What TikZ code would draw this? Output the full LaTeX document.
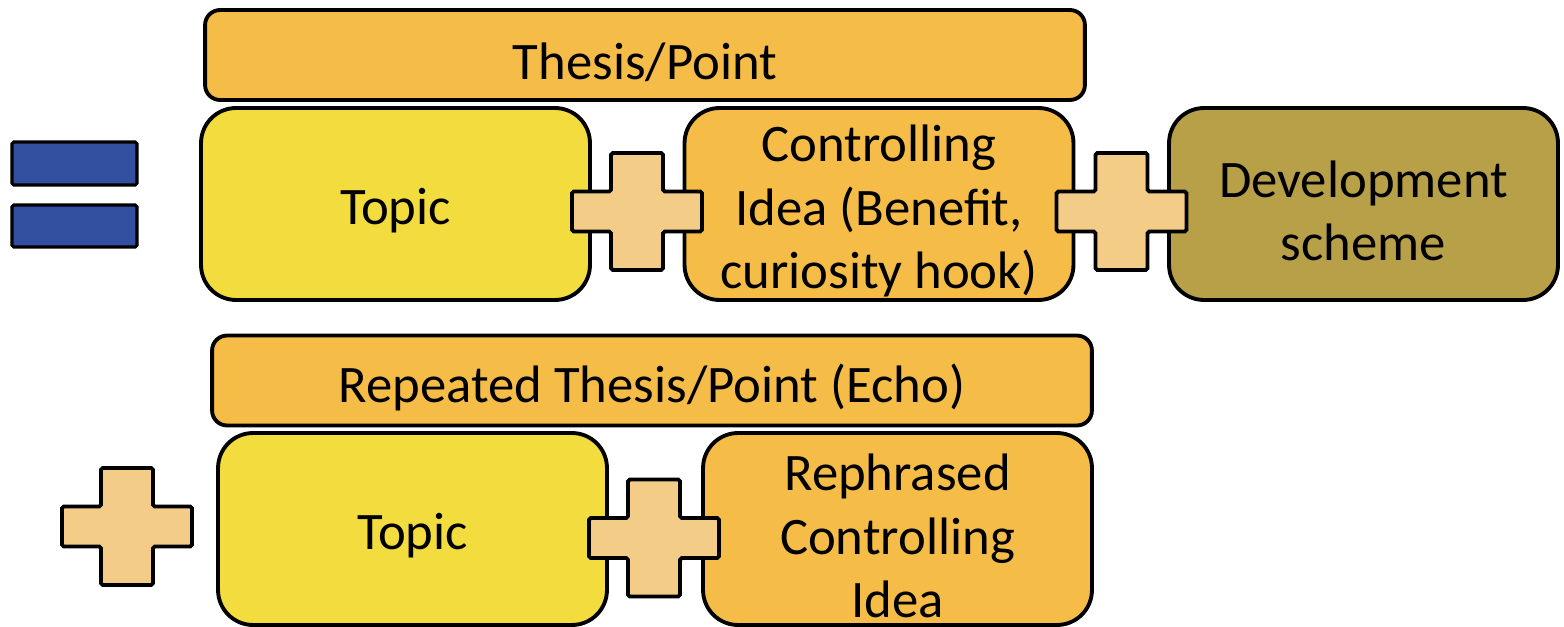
\documentclass[tikz,border=0pt]{standalone}
\usepackage{fontspec}
\setmainfont{Carlito}
\definecolor{thesisorange}{HTML}{F5BD47}
\definecolor{topicyellow}{HTML}{F2DC3E}
\definecolor{devolive}{HTML}{B8A048}
\definecolor{pluscream}{HTML}{F3CD87}
\definecolor{equalblue}{HTML}{3350A0}
\tikzset{
  partbox/.style={draw, line width=2.2pt, rounded corners=0.7cm,
    minimum width=7.78cm, minimum height=3.84cm, inner sep=0pt},
  boxtext/.style={align=center, yshift=-4pt, inner sep=0pt,
    font=\fontsize{30}{36}\selectfont},
  thesisbar/.style={partbox, fill=thesisorange, rounded corners=0.3cm,
    minimum width=17.6cm, minimum height=1.8cm},
  plussign/.pic={
    \draw[line width=2.2pt, fill=pluscream, rounded corners=1pt]
      (-65,-20) -- (-26,-20) -- (-26,-58.5) -- (26,-58.5) -- (26,-20) -- (65,-20)
      -- (65,20) -- (26,20) -- (26,58.5) -- (-26,58.5) -- (-26,20) -- (-65,20) -- cycle;
  }
}
\begin{document}
\begin{tikzpicture}[x=0.02cm,y=0.02cm]
  \useasboundingbox (0,0) rectangle (1564,626);
  % equals sign
  \draw[line width=1.8pt, fill=equalblue, rounded corners=1pt] (12,484) rectangle (137,441);
  \draw[line width=1.8pt, fill=equalblue, rounded corners=1pt] (12,421) rectangle (137,379);
  % first statement
  \node[thesisbar, label={[boxtext]center:Thesis/Point}] (thesis) at (645,571) {};
  \node[partbox, fill=topicyellow, label={[boxtext]center:Topic}] (topic) at (395.5,422) {};
  \node[partbox, fill=thesisorange,
    label={[boxtext]center:Controlling\\Idea (Benefit,\\curiosity hook)}] (idea) at (879,422) {};
  \node[partbox, fill=devolive,
    label={[boxtext]center:Development\\scheme}] (scheme) at (1363.5,422) {};
  \pic at (637,414.5) {plussign};
  \pic at (1121.5,414.5) {plussign};
  % echo
  \node[thesisbar, label={[boxtext]center:Repeated Thesis/Point (Echo)}] (echo) at (652,245.5) {};
  \node[partbox, fill=topicyellow, label={[boxtext]center:Topic}] (topic2) at (412.5,97) {};
  \node[partbox, fill=thesisorange,
    label={[boxtext]center:Rephrased\\Controlling\\Idea}] (rephrased) at (897.5,97) {};
  \pic at (127,99.5) {plussign};
  \pic at (654,88) {plussign};
\end{tikzpicture}
\end{document}
